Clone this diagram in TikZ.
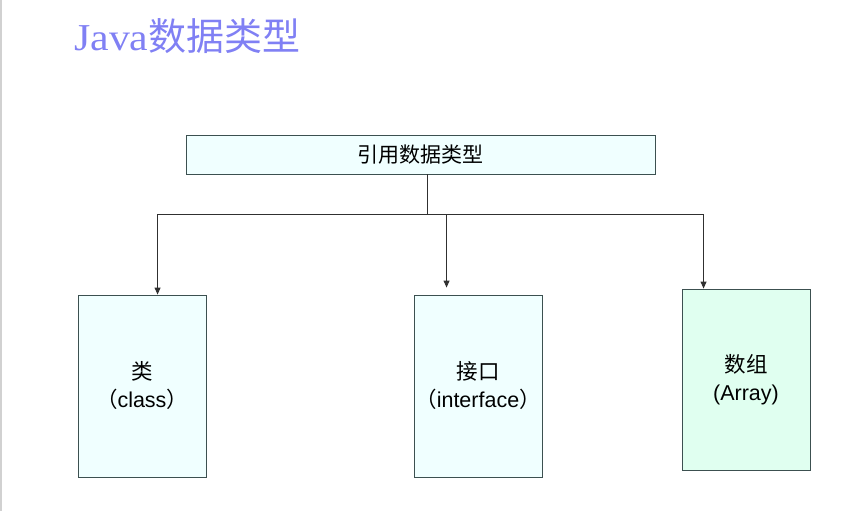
\documentclass[tikz,border=0pt]{standalone}
\usepackage{fontspec}
\setmainfont{Liberation Sans}
\newfontfamily\cjk{Noto Sans CJK SC}
\newfontfamily\titleserif{Liberation Serif}
\usetikzlibrary{arrows.meta,calc}
\definecolor{boxfill}{HTML}{F0FFFF}
\definecolor{arrfill}{HTML}{E0FFF0}
\definecolor{boxline}{HTML}{3C5050}
\definecolor{titleblue}{HTML}{8080F4}
\definecolor{wire}{HTML}{303030}
\tikzset{
  tbox/.style={draw=boxline, line width=0.9pt, fill=boxfill, inner sep=0pt, align=center,
    font=\fontsize{21.5}{28}\selectfont},
  wirestyle/.style={draw=wire, line width=0.9pt},
  arrowstyle/.style={wirestyle, -{Triangle[length=7pt,width=6pt]}},
}
\begin{document}
\begin{tikzpicture}[x=1pt,y=-1pt]
\useasboundingbox (0,0) rectangle (852,511);
\draw[draw=black!18, line width=1.2pt] (1,0) -- (1,511);
\node[anchor=west, text=titleblue, inner sep=0pt, font=\fontsize{38}{40}\selectfont] (title) at (74,36)
  {\titleserif\scalebox{1.1}[1]{Java}\cjk 数据类型};
\node[tbox, minimum width=469pt, minimum height=39pt, font=\cjk\fontsize{21}{25}\selectfont] (top) at (420.5,154.5) {引用数据类型};
\node[tbox, minimum width=128pt, minimum height=182pt] (class) at (142,386)
  {{\cjk 类}\\{\cjk （}class{\cjk ）}};
\node[tbox, minimum width=128pt, minimum height=182pt] (iface) at (478,386)
  {{\cjk 接口}\\{\cjk （}interface{\cjk ）}};
\node[tbox, fill=arrfill, minimum width=128pt, minimum height=181pt] (array) at (746,379.5)
  {{\cjk 数组}\\(Array)};
\coordinate (drop) at ($(top.south)+(6.5,0)$);
\coordinate (bus) at (drop |- 0,214);
\coordinate (classin) at ($(class.north west)+(80,0)$);
\coordinate (ifacein) at ($(iface.north west)+(33,-7)$);
\coordinate (arrayin) at ($(array.north west)+(22,0)$);
\draw[wirestyle] (drop) -- (bus);
\draw[arrowstyle] (bus) -| (classin);
\draw[arrowstyle] (bus) -| (ifacein);
\draw[arrowstyle] (bus) -| (arrayin);
\end{tikzpicture}
\end{document}
